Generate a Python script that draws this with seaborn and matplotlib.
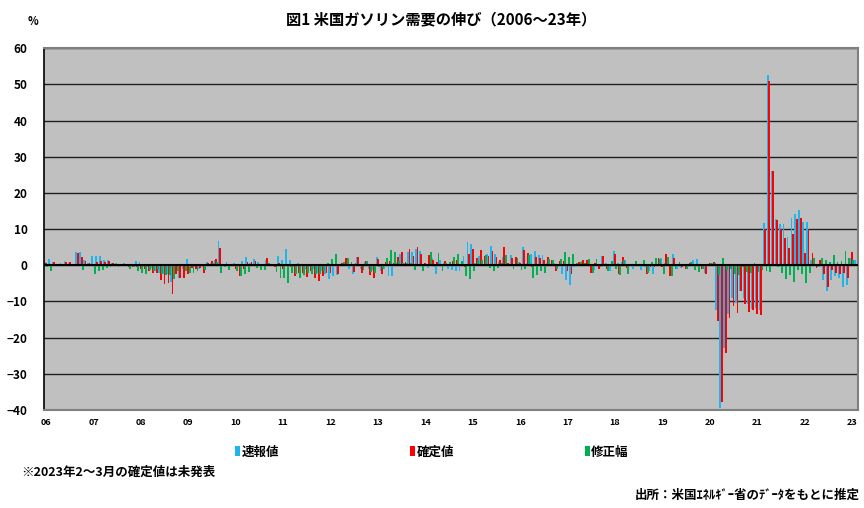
import numpy as np
import pandas as pd
import seaborn as sns
import matplotlib.pyplot as plt
from matplotlib.patches import Patch

plt.rcParams['font.family'] = ['Noto Sans CJK JP', 'DejaVu Sans']
plt.rcParams['font.weight'] = 'bold'

# 月次データ 2006年1月～2023年2月 (前年比 %)
# 速報値
prelim = [
    1.0, 1.8, 1.0, 0.3, 0.5, 1.3, 0.5, 0.3, 3.6, 3.6, 1.5, 0.5,          # 2006
    2.7, 2.6, 2.6, 1.5, 1.5, 0.6, 0.5, 0.3, 0.5, 0.2, 0.3, 1.2,          # 2007
    1.0, -0.5, -0.5, -0.8, -1.5, -2.0, -2.5, -2.5, -4.5, -1.0, -3.5, -1.0,  # 2008
    1.8, -0.5, -0.5, -1.0, -0.5, 0.8, 0.5, 1.5, 6.6, 0.3, 0.8, 0.2,      # 2009
    0.6, 0.4, 1.2, 2.3, 0.5, 1.8, 1.0, 0.3, 1.5, 0.3, 0.3, 2.7,          # 2010
    1.5, 4.6, 1.5, -0.5, 0.5, 0.3, -1.0, 0.3, -1.0, -2.0, -1.5, -2.5,    # 2011
    -3.8, -3.0, -2.8, -0.3, 0.0, -1.0, -2.5, 2.3, -1.0, 1.0, -1.0, -1.4,  # 2012
    2.2, -1.5, -1.0, -3.0, -3.0, 1.0, 3.0, 0.5, 3.8, 3.6, 4.6, 4.0,      # 2013
    0.3, -0.8, 2.0, -2.3, 1.5, 0.5, -1.0, -1.2, -1.5, -1.5, 2.5, 6.5,    # 2014
    5.8, 0.5, 2.5, 0.0, 3.2, 5.3, 3.1, 1.0, 2.3, 0.3, 2.8, 0.2,          # 2015
    1.0, 5.0, 0.5, 3.0, 4.0, 2.8, 2.8, 0.5, 0.0, 0.5, -0.5, -2.5,        # 2016
    -4.0, -5.5, -0.5, 0.0, 1.2, -0.3, 0.0, -1.2, -0.5, 2.5, 0.5, -1.5,   # 2017
    4.0, 0.5, 1.0, 1.5, 0.2, -1.0, 0.3, -1.2, -0.5, -1.5, -2.5, 0.2,     # 2018
    2.0, 0.7, 0.0, 3.0, -1.0, -0.8, 0.0, -0.5, 1.5, 1.8, 0.0, -2.0,      # 2019
    0.3, 0.5, -12.5, -39.5, -23.0, -13.5, -9.0, -10.4, -7.0, -9.0, -10.8, -12.0,  # 2020
    -11.7, -12.5, 11.6, 52.6, 26.0, 12.8, 11.3, 11.3, 7.8, 13.1, 14.1, 15.2,     # 2021
    12.0, 12.0, 1.5, -0.3, -0.5, -4.0, -7.0, -4.0, -3.0, -3.5, -6.0, -5.5,       # 2022
    2.0, 1.5,                                                              # 2023
]
# 確定値
final = [
    0.6, 0.3, 0.8, 0.2, 0.3, 1.0, 0.8, 0.2, 3.4, 2.4, 1.2, 0.6,
    0.2, 1.0, 1.2, 0.8, 1.3, 0.5, 0.3, 0.4, 0.2, -0.6, -0.4, -0.5,
    -1.0, -1.0, -1.5, -2.0, -2.0, -4.0, -5.3, -5.0, -8.0, -2.5, -3.5, -3.5,
    -2.5, -0.8, -1.0, -0.8, -2.0, 0.6, 1.2, 1.8, 4.8, 0.3, 0.2, 0.2,
    -1.0, -3.0, -1.0, 0.8, 0.8, 1.3, 0.3, -0.3, 2.1, 0.2, -0.5, 0.5,
    -1.0, 0.2, -0.5, -3.0, -2.0, -2.0, -3.2, -1.5, -3.5, -4.3, -3.0, -2.0,
    -2.0, 0.2, -2.5, 0.5, 2.0, 0.0, -1.9, 2.4, -2.2, 1.2, -2.8, -3.4,
    1.6, -2.5, 1.0, 1.3, 0.7, 2.2, 3.6, 1.0, 4.5, 2.5, 5.0, 3.0,
    0.5, 2.8, 1.5, 1.0, 0.0, 1.1, 0.0, 1.1, 1.5, -0.3, -0.5, 3.0,
    4.5, 2.0, 4.3, 2.7, 2.6, 4.0, 2.4, 1.5, 5.1, 0.6, 2.1, 2.2,
    0.5, 4.3, 3.4, -0.5, 2.3, 2.0, 1.5, 2.2, 1.5, -1.5, 1.3, 1.3,
    -1.7, -2.5, 0.0, 1.0, 1.5, 1.5, -2.0, 0.6, -1.0, 2.5, -1.0, -0.3,
    3.0, -2.3, 2.4, -0.8, 0.3, 0.2, 0.2, 0.3, -2.5, -0.5, -0.5, 2.0,
    -0.5, 3.0, -3.0, 2.0, 0.0, -0.5, -1.0, 0.5, 0.2, 0.0, -1.0, -2.3,
    0.5, 1.0, -15.4, -37.8, -24.2, -14.5, -11.3, -13.2, -7.0, -10.8, -12.8, -12.3,
    -13.5, -13.8, 10.0, 50.9, 26.2, 12.4, 10.0, 7.6, 4.7, 8.6, 12.9, 13.2,
    3.5, 10.1, 3.5, -0.8, 1.5, -2.5, -6.0, -1.2, -2.0, -2.3, -2.0, -3.5,
    3.7, np.nan,
]
# 修正幅
revision = [
    -0.4, -1.5, -0.2, -0.1, -0.2, -0.3, 0.3, -0.1, -0.2, -1.2, -0.3, 0.1,
    -2.5, -1.6, -1.4, -0.7, -0.5, -0.3, -0.5, -0.3, -0.3, -1.0, -0.5, -1.5,
    -2.0, -2.5, -1.2, -1.5, -1.0, -2.5, -2.8, -2.8, -3.8, -1.5, -0.2, -1.5,
    -2.0, -2.0, -1.5, 0.2, -1.2, -0.2, 0.7, 0.8, -2.0, -0.5, -1.2, 0.1,
    -1.5, -3.0, -2.5, -1.8, 0.3, -0.8, -1.2, -1.3, 0.6, -0.2, -1.8, -3.5,
    -3.6, -4.8, -2.0, -2.5, -3.5, -2.8, -2.2, -2.5, -2.5, -2.3, -1.5, 0.5,
    1.8, 3.2, 0.3, 0.8, 2.0, 1.0, 0.6, 0.1, -1.2, 1.2, -1.8, -2.0,
    -0.6, -1.0, 2.0, 4.3, 3.7, 1.2, 0.6, 0.5, 0.7, -1.2, 0.4, -1.7,
    0.2, 3.6, -0.5, 3.3, -1.5, 0.6, 1.0, 2.3, 3.0, 1.2, -3.0, -3.7,
    -1.7, 1.5, 1.5, 2.8, -0.8, -1.5, -0.8, 0.5, 2.8, 0.3, -0.9, 2.0,
    -1.4, -1.0, 2.9, -3.5, -2.8, -1.5, -2.0, 1.7, 1.5, -1.0, 1.8, 3.8,
    2.3, 3.0, 0.5, 1.0, 0.5, 1.8, -2.0, 1.8, -0.5, 0.2, -1.5, 1.2,
    -1.0, -2.8, 1.4, -2.3, 0.1, 1.2, -0.1, 1.5, -2.0, 1.0, 2.0, 1.8,
    -2.5, 2.3, -3.0, -1.0, 1.0, 0.3, -1.0, 1.0, -1.3, -1.8, -1.0, -0.3,
    0.5, 0.5, -2.8, 2.0, -1.3, -1.0, -2.3, -2.8, -0.5, -1.8, -2.0, 0.5,
    -1.8, -1.3, -1.6, -1.8, 0.2, -0.5, -2.0, -3.8, -2.8, -4.5, -1.2, -2.5,
    -5.0, -2.0, 2.0, -0.5, 2.0, 1.5, 1.0, 2.8, 1.0, 1.2, 4.0, 2.0,
    1.5, np.nan,
]

names = ['速報値', '確定値', '修正幅']
colors = ['#1EB4EC', '#FF0000', '#00B050']
year_labels = ['%02d' % (y % 100) for y in range(2006, 2024)]

n = len(prelim)
months = list(range(n))
df = pd.DataFrame({
    'month': months * 3,
    'series': np.repeat(names, n),
    'value': prelim + final + revision,
}).dropna()

fig = plt.figure(figsize=(8.64, 5.08), dpi=100)
ax = fig.add_axes([0.051, 0.193, 0.942, 0.712])
ax.set_facecolor('#C0C0C0')

sns.barplot(data=df, x='month', y='value', hue='series', order=months,
            hue_order=names, palette=colors, width=1.0, saturation=1,
            errorbar=None, legend=False, ax=ax, zorder=2)

# 棒を少し太くして重ねる
for p in ax.patches:
    w = p.get_width()
    p.set_x(p.get_x() - w * 0.2)
    p.set_width(w * 1.4)
    p.set_linewidth(0)

ax.set_xlim(-0.5, n - 0.5)
ax.set_ylim(-40, 60)
ax.set_yticks(range(-40, 61, 10))
ax.set_xticks(range(0, n, 12))
ax.set_xticklabels(year_labels, fontsize=6.5, fontweight='bold')
ax.tick_params(axis='x', length=0, pad=6)
ax.tick_params(axis='y', length=0, pad=12, labelsize=8.5)
for t in ax.get_yticklabels():
    t.set_fontweight('bold')
ax.set_xlabel('')
ax.set_ylabel('')

ax.yaxis.grid(True, color='#202020', linewidth=1.0)
ax.set_axisbelow(True)
ax.axhline(0, color='black', linewidth=1.5, zorder=3)

for side in ['top', 'right', 'bottom']:
    ax.spines[side].set_color('#7F7F7F')
    ax.spines[side].set_linewidth(1.5)
ax.spines['left'].set_color('black')
ax.spines['left'].set_linewidth(1.2)

fig.text(0.51, 0.962, '図1 米国ガソリン需要の伸び（2006～23年）', ha='center', va='center',
         fontsize=11, fontweight='bold')
fig.text(0.038, 0.958, '%', ha='center', va='center', fontsize=8, fontweight='bold')

handles = [Patch(facecolor=c, edgecolor='none') for c in colors]
fig.legend(handles, names, loc='center', bbox_to_anchor=(0.5, 0.11), ncol=3,
           frameon=False, handlelength=0.35, handleheight=0.8, handletextpad=0.15,
           columnspacing=10.5, prop={'size': 9, 'weight': 'bold'})

fig.text(0.025, 0.07, '※2023年2～3月の確定値は未発表', ha='left', va='center',
         fontsize=9, fontweight='bold')
fig.text(0.995, 0.012, '出所：米国ｴﾈﾙｷﾞｰ省のﾃﾞｰﾀをもとに推定', ha='right', va='bottom',
         fontsize=9, fontweight='bold')

fig.savefig('out.png', dpi=100)
